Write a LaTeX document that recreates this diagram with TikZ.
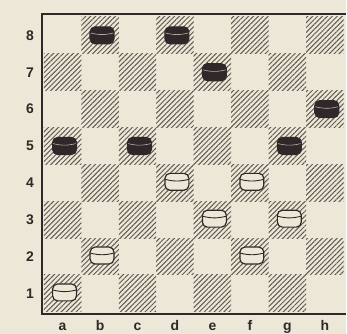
\documentclass[tikz,border=0pt]{standalone}
\usepackage{fontspec}
\setmainfont{Liberation Sans}
\usetikzlibrary{patterns.meta}
\definecolor{paper}{RGB}{236,231,214}
\definecolor{ink}{RGB}{48,40,40}
\definecolor{hatch}{RGB}{96,90,84}

\begin{document}
\begin{tikzpicture}[x=1pt, y=1pt,
    darksq/.style={pattern={Lines[angle=45, distance=3.5pt, line width=1pt]}, pattern color=hatch},
    piece/.style={draw=ink, line width=1.2pt, rounded corners=5pt, minimum width=24pt,
      minimum height=17pt, inner sep=0pt, fill=#1},
    whitepiece/.style={piece=paper, path picture={\draw[ink, line width=0.9pt]
      ([yshift=2.5pt]path picture bounding box.west) to[bend right=14] ([yshift=2.5pt]path picture bounding box.east);}},
    blackpiece/.style={piece=ink, path picture={\draw[gray!60, line width=0.6pt]
      ([yshift=2.5pt]path picture bounding box.west) to[bend right=14] ([yshift=2.5pt]path picture bounding box.east);}},
    lbl/.style={font=\bfseries\fontsize{14}{14}\selectfont, text=ink, inner sep=0pt}]
    \fill[paper] (0,0) rectangle (347,335);
    % squares
    \foreach \i in {1,...,8}{
      \foreach \j in {1,...,8}{
        \pgfmathtruncatemacro{\dk}{mod(\i+\j,2)}
        \ifnum\dk=0 \path[darksq] ({44+(\i-1)*37.6},{22+(\j-1)*37}) rectangle ++(37.6,37); \fi
      }
    }
    \draw[ink, line width=2.6pt] (347,321) -- (42,321) -- (42,20) -- (347,20);
    % labels
    \foreach \j in {1,...,8}
      \node[lbl] (rank\j) at (30,{22+(\j-0.5)*37}) {\j};
    \foreach \f [count=\i] in {a,b,c,d,e,f,g,h}
      \node[lbl, anchor=base] (file\f) at ({44+(\i-0.5)*37.6},3) {\f};
    % pieces
    \foreach \i/\j/\n in {2/8/b8, 4/8/d8, 5/7/e7, 8/6/h6, 1/5/a5, 3/5/c5, 7/5/g5}
      \node[blackpiece] (\n) at ({46+(\i-0.5)*37.6},{22+(\j-0.5)*37}) {};
    \foreach \i/\j/\n in {4/4/d4, 6/4/f4, 5/3/e3, 7/3/g3, 2/2/b2, 6/2/f2, 1/1/a1}
      \node[whitepiece] (\n) at ({46+(\i-0.5)*37.6},{23+(\j-0.5)*37}) {};
  \end{tikzpicture}
\end{document}
